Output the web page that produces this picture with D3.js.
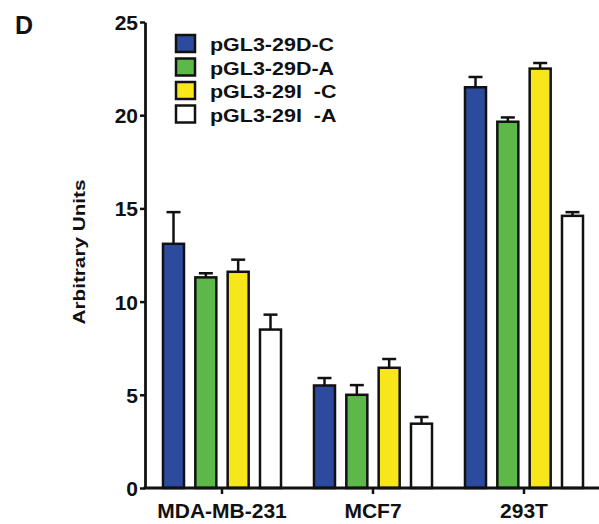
<!DOCTYPE html>
<html>
<head>
<meta charset="utf-8">
<script src="https://cdn.jsdelivr.net/npm/d3@7"></script>
<style>
  html, body { margin: 0; padding: 0; background: #fff; }
  svg { display: block; font-family: "Liberation Sans", Arial, Helvetica, sans-serif; }
  text { white-space: pre; }
</style>
</head>
<body>
<svg id="chart" width="599" height="524"></svg>
<script>
// Cell lines on the x axis
const categories = ["MDA-MB-231", "MCF7", "293T"];

// Reporter constructs (legend order)
const series = ["pGL3-29D-C", "pGL3-29D-A", "pGL3-29I  -C", "pGL3-29I  -A"];
const seriesColors = ["#2c4b9e", "#5cb848", "#f7e71a", "#ffffff"];

// Mean luciferase activity per construct, one value per cell line
const d29C = [13.1, 5.5, 21.5];
const d29A = [11.3, 5.0, 19.65];
const i29C = [11.6, 6.45, 22.5];
const i29A = [8.5, 3.45, 14.6];

// Upper error (SD) per construct, one value per cell line
const d29CErr = [1.7, 0.4, 0.55];
const d29AErr = [0.22, 0.52, 0.23];
const i29CErr = [0.65, 0.47, 0.3];
const i29AErr = [0.8, 0.36, 0.2];

// Axis ticks
const yTicks = [0, 5, 10, 15, 20, 25];

const means = [d29C, d29A, i29C, i29A];
const errs = [d29CErr, d29AErr, i29CErr, i29AErr];

const rows = [];
categories.forEach((c, ci) => {
  series.forEach((s, si) => {
    rows.push({ cat: c, ser: s, color: seriesColors[si], value: means[si][ci], err: errs[si][ci] });
  });
});

const svg = d3.select("#chart");

const y = d3.scaleLinear().domain([0, 25]).range([488, 22]);
const x0 = d3.scaleBand().domain(categories).range([146.5, 599.5]).paddingInner(0).paddingOuter(0);
const x1 = d3.scaleBand().domain(series).range([0, x0.bandwidth()]).paddingInner(0.35).paddingOuter(0.51);

// Bars
svg.append("g").selectAll("rect")
  .data(rows)
  .join("rect")
  .attr("x", d => x0(d.cat) + x1(d.ser))
  .attr("width", x1.bandwidth())
  .attr("y", d => y(d.value))
  .attr("height", d => y(0) - y(d.value))
  .attr("fill", d => d.color)
  .attr("stroke", "#111")
  .attr("stroke-width", 2.5);

// Upper error bars
const eb = svg.append("g").attr("stroke", "#111").attr("stroke-width", 2.5);
rows.forEach(d => {
  const cx = x0(d.cat) + x1(d.ser) + x1.bandwidth() / 2;
  eb.append("line").attr("x1", cx).attr("x2", cx)
    .attr("y1", y(d.value)).attr("y2", y(d.value + d.err));
  eb.append("line").attr("x1", cx - 7).attr("x2", cx + 7)
    .attr("y1", y(d.value + d.err)).attr("y2", y(d.value + d.err));
});

// Y axis
const yAxis = svg.append("g")
  .attr("transform", "translate(145,0)")
  .call(d3.axisLeft(y).tickValues(yTicks).tickSize(5).tickPadding(2).tickSizeOuter(0));
yAxis.select(".domain").attr("stroke", "#111").attr("stroke-width", 2.8);
yAxis.selectAll(".tick line").attr("stroke", "#111").attr("stroke-width", 2.5);
yAxis.selectAll(".tick text")
  .attr("fill", "#111")
  .style("font-size", "21px")
  .style("font-weight", "bold")
  .attr("dy", "0.36em");

// X axis
const xAxis = svg.append("g")
  .attr("transform", "translate(0,488)")
  .call(d3.axisBottom(x0).tickSize(6).tickPadding(8).tickSizeOuter(0));
xAxis.select(".domain").attr("stroke", "#111").attr("stroke-width", 2.8)
  .attr("d", "M143.5,0H599");
xAxis.selectAll(".tick line").attr("stroke", "#111").attr("stroke-width", 2.5);
xAxis.selectAll(".tick text")
  .attr("fill", "#111")
  .style("font-size", "21px")
  .style("font-weight", "bold")
  .attr("dy", "0.76em");

// Y axis title (wide lettering, stretched along its length)
svg.append("text")
  .attr("transform", "translate(85,252) rotate(-90)")
  .attr("text-anchor", "middle")
  .attr("fill", "#111")
  .style("font-size", "17px")
  .style("font-weight", "bold")
  .attr("textLength", 145)
  .attr("lengthAdjust", "spacingAndGlyphs")
  .text("Arbitrary Units");

// Panel letter
svg.append("text")
  .attr("x", 15).attr("y", 34)
  .attr("fill", "#111")
  .style("font-size", "25px")
  .style("font-weight", "bold")
  .text("D");

// Legend
const legend = svg.append("g");
series.forEach((s, i) => {
  const gy = 35 + i * 23.5;
  legend.append("rect")
    .attr("x", 176).attr("y", gy)
    .attr("width", 19).attr("height", 17)
    .attr("fill", seriesColors[i])
    .attr("stroke", "#111").attr("stroke-width", 2.5);
  const t = legend.append("text")
    .attr("x", 210).attr("y", gy + 16)
    .attr("fill", "#111")
    .style("font-size", "19px")
    .style("font-weight", "bold")
    .text(s);
  // widen the lettering by a fixed factor
  const w = t.node().getComputedTextLength();
  t.attr("textLength", w * 1.13).attr("lengthAdjust", "spacingAndGlyphs");
});
</script>
</body>
</html>
